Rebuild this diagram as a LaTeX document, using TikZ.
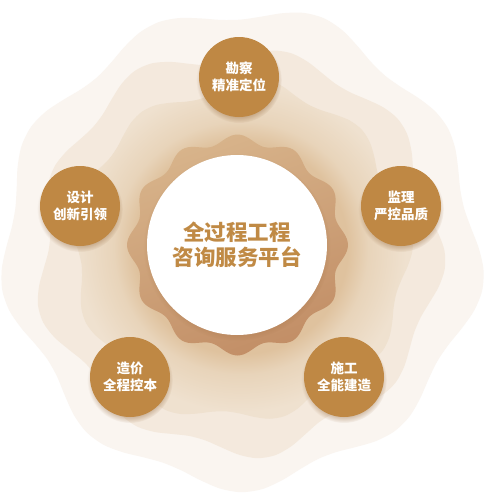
\documentclass[tikz,border=0pt]{standalone}
\usepackage{fontspec}
\newfontfamily\cjk{Noto Sans CJK SC}
\usetikzlibrary{shadows,fadings}
\definecolor{layerA}{HTML}{FAF5F0}
\definecolor{layerB}{HTML}{F4E9DD}
\definecolor{lthreeA}{HTML}{DFC29E}
\definecolor{lthreeB}{HTML}{E8D4BA}
\definecolor{lthreeC}{HTML}{EFE1CF}
\definecolor{innerTop}{HTML}{D8B48B}
\definecolor{innerBot}{HTML}{C28E66}
\definecolor{satfill}{HTML}{BF8844}
\definecolor{maintext}{HTML}{C08A45}
\definecolor{shadowc}{HTML}{8A5A2A}
\pgfdeclareradialshading{layerthree}{\pgfpoint{0bp}{0bp}}{color(0bp)=(lthreeA); color(15.5bp)=(lthreeA); color(18.5bp)=(lthreeB); color(24bp)=(lthreeC); color(50bp)=(lthreeC)}
\tikzset{
  satnode/.style={circle, fill=satfill, minimum size=80pt, inner sep=0pt,
    text=white, align=center, font=\cjk\bfseries\fontsize{13.5}{16.5}\selectfont,
    circular drop shadow={shadow xshift=0pt, shadow yshift=-3pt, shadow scale=1.07, fill=shadowc, opacity=.35}},
  corenode/.style={circle, fill=white, minimum size=180pt, inner sep=0pt,
    text=maintext, align=center, font=\cjk\bfseries\fontsize{21.5}{25}\selectfont,
    circular drop shadow={shadow xshift=0pt, shadow yshift=-2pt, shadow scale=1.04, fill=shadowc, opacity=.3}}
}
\begin{document}
\begin{tikzpicture}[x=1pt,y=-1pt]
\useasboundingbox (0,0) rectangle (487,496);
\fill[white] (0,0) rectangle (487,496);
% outer layer
\begin{scope}[shift={(241,248)}]
\fill[layerA] plot[smooth cycle, domain=0:355, samples=72] (\x:{234+8*sin(9*\x+10)+3*sin(4*\x+50)});
\end{scope}
% layer two
\begin{scope}[shift={(239,251)}]
\fill[layerB] plot[smooth cycle, domain=0:355, samples=72] (\x:{198+8*sin(9*\x+70)+3*sin(5*\x)});
\end{scope}
% layer three
\begin{scope}[shift={(240,251)}]
\shade[shading=layerthree] plot[smooth cycle, domain=0:355, samples=72] (\x:{166+7*sin(9*\x+130)+3*sin(4*\x+20)});
\end{scope}
% inner wavy
\begin{scope}[shift={(237.5,245)}]
\shade[top color=innerTop, bottom color=innerBot, shading angle=20] plot[smooth cycle, domain=0:357, samples=120] (\x:{106+4.5*sin(12*\x+90)});
\end{scope}
% core
\node[corenode] (core) at (237,245) {全过程工程\\咨询服务平台};
% satellites
\node[satnode] (kc) at (239,77) {勘察\\精准定位};
\node[satnode] (sj) at (80,206) {设计\\创新引领};
\node[satnode] (jl) at (401,206) {监理\\严控品质};
\node[satnode] (zj) at (130,377) {造价\\全程控本};
\node[satnode] (sg) at (344,377) {施工\\全能建造};
\end{tikzpicture}
\end{document}
